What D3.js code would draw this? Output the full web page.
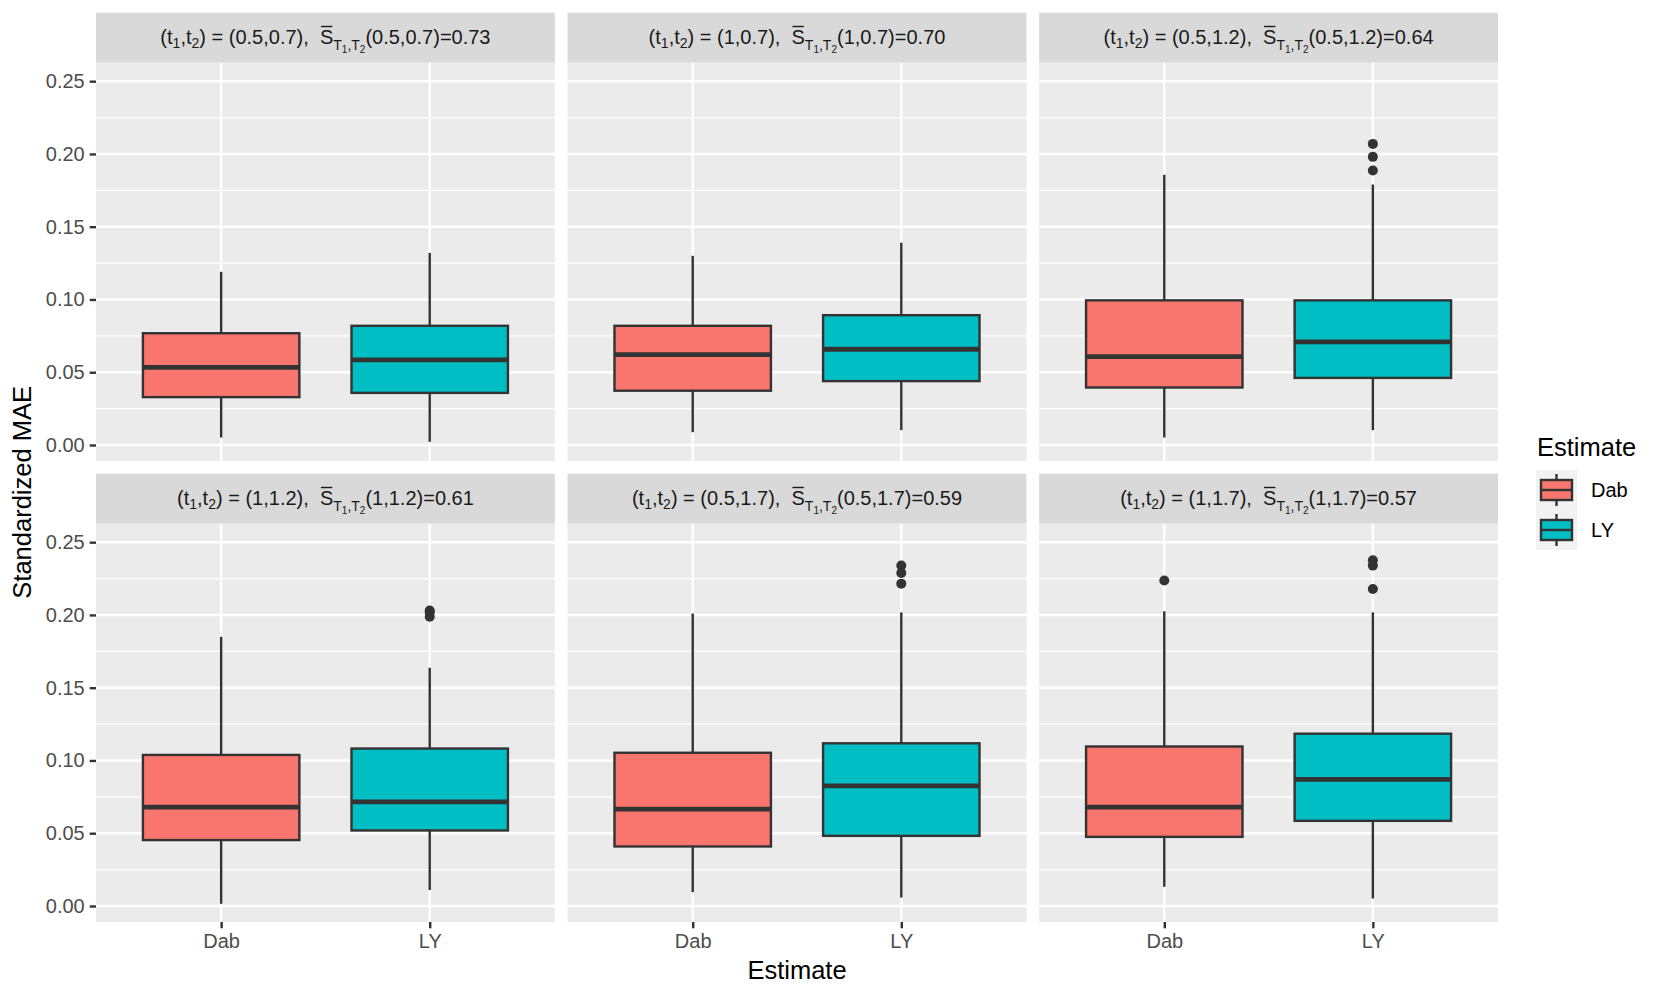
<!DOCTYPE html>
<html>
<head>
<meta charset="utf-8">
<script src="https://cdn.jsdelivr.net/npm/d3@7"></script>
<style>
  body { margin: 0; background: #fff; }
  text { font-family: "Liberation Sans", Arial, sans-serif; }
</style>
</head>
<body>
<svg id="chart" width="1661" height="997"></svg>
<script>
// ######## data
const estimates = ["Dab", "LY"];
const fills = ["#F8766D", "#00BFC4"];

// panel labels: (t1, t2) and S-bar value
const panelT1 = ["0.5", "1", "0.5", "1", "0.5", "1"];
const panelT2 = ["0.7", "0.7", "1.2", "1.2", "1.7", "1.7"];
const panelS = ["0.73", "0.70", "0.64", "0.61", "0.59", "0.57"];

// [lower whisker, Q1, median, Q3, upper whisker] for each panel
const dabBoxes = [
  [0.0051, 0.0329, 0.0534, 0.0768, 0.1190],
  [0.0088, 0.0373, 0.0621, 0.0819, 0.1300],
  [0.0051, 0.0395, 0.0607, 0.0994, 0.1857],
  [0.0015, 0.0453, 0.0680, 0.1038, 0.1850],
  [0.0095, 0.0409, 0.0665, 0.1053, 0.2010],
  [0.0132, 0.0475, 0.0680, 0.1096, 0.2025]
];
const lyBoxes = [
  [0.0022, 0.0358, 0.0585, 0.0819, 0.1320],
  [0.0102, 0.0439, 0.0658, 0.0892, 0.1390],
  [0.0102, 0.0461, 0.0709, 0.0994, 0.1790],
  [0.0110, 0.0519, 0.0716, 0.1082, 0.1637],
  [0.0058, 0.0482, 0.0826, 0.1118, 0.2018],
  [0.0051, 0.0585, 0.0870, 0.1184, 0.2018]
];
const dabOutliers = [[], [], [], [], [], [0.2237]];
const lyOutliers = [
  [], [],
  [0.2069, 0.1980, 0.1886],
  [0.2030, 0.2018, 0.1988],
  [0.2339, 0.2288, 0.2215],
  [0.2376, 0.2339, 0.2178]
];

const yTicks = [0, 0.05, 0.10, 0.15, 0.20, 0.25];
const yMinor = [0.025, 0.075, 0.125, 0.175, 0.225];

// ######## layout
const svg = d3.select("#chart");
const left = 96, right = 1498, top0 = 12.7, gap = 12.7;
const stripH = 50, panelH = 398.3;
const panelW = (right - left - 2 * gap) / 3;
const ink = "#333333";

// discrete scale with ggplot expansion (0.6 each side)
const xPos = d3.scaleLinear().domain([0.4, 2.6]).range([0, panelW]);
const boxW = xPos(1.75) - xPos(1);

function panelTop(row) { return top0 + row * (stripH + panelH + gap) + stripH; }

// lays out a row of text pieces, returns total width
function richText(g, segs, size) {
  let cx = 0;
  segs.forEach(s => {
    const fs = size * (s.scale || 1);
    const t = g.append("text")
      .attr("x", cx).attr("y", (s.shift || 0) * size)
      .attr("font-size", fs).attr("fill", "#1a1a1a")
      .style("white-space", "pre")
      .text(s.t);
    const w = t.node().getComputedTextLength();
    if (s.over) {
      g.append("line")
        .attr("x1", cx + 1).attr("x2", cx + w - 1)
        .attr("y1", -size * 0.86).attr("y2", -size * 0.86)
        .attr("stroke", "#1a1a1a").attr("stroke-width", 1.4);
    }
    cx += w;
  });
  return cx;
}

function stripSegs(i) {
  const a = panelT1[i], b = panelT2[i];
  return [
    { t: "(t" }, { t: "1", scale: 0.7, shift: 0.22 }, { t: ",t" }, { t: "2", scale: 0.7, shift: 0.22 },
    { t: ") = (" + a + "," + b + "),  " },
    { t: "S", over: true },
    { t: "T", scale: 0.7, shift: 0.3 }, { t: "1", scale: 0.5, shift: 0.45 },
    { t: ",T", scale: 0.7, shift: 0.3 }, { t: "2", scale: 0.5, shift: 0.45 },
    { t: "(" + a + "," + b + ")=" + panelS[i] }
  ];
}

for (let i = 0; i < 6; i++) {
  const row = Math.floor(i / 3), col = i % 3;
  const px = left + col * (panelW + gap);
  const py = panelTop(row);
  const y = d3.scaleLinear().domain([-0.011, 0.2627]).range([py + panelH, py]);

  // strip
  svg.append("rect").attr("x", px).attr("y", py - stripH)
    .attr("width", panelW).attr("height", stripH).attr("fill", "#d9d9d9");
  const lab = svg.append("g");
  const w = richText(lab, stripSegs(i), 20);
  lab.attr("transform", `translate(${px + panelW / 2 - w / 2},${py - stripH / 2 + 6})`);

  // panel background + grid
  const p = svg.append("g").attr("transform", `translate(${px},0)`);
  p.append("rect").attr("x", 0).attr("y", py).attr("width", panelW).attr("height", panelH)
    .attr("fill", "#ebebeb");
  p.selectAll(".minor").data(yMinor).join("line")
    .attr("x1", 0).attr("x2", panelW).attr("y1", d => y(d)).attr("y2", d => y(d))
    .attr("stroke", "#fff").attr("stroke-width", 1.2);
  p.selectAll(".major").data(yTicks).join("line")
    .attr("x1", 0).attr("x2", panelW).attr("y1", d => y(d)).attr("y2", d => y(d))
    .attr("stroke", "#fff").attr("stroke-width", 2.4);
  p.selectAll(".vmajor").data(estimates).join("line")
    .attr("x1", (d, j) => xPos(j + 1)).attr("x2", (d, j) => xPos(j + 1))
    .attr("y1", py).attr("y2", py + panelH)
    .attr("stroke", "#fff").attr("stroke-width", 2.4);

  // boxes
  [dabBoxes[i], lyBoxes[i]].forEach((b, j) => {
    const cx = xPos(j + 1);
    const [lo, q1, med, q3, hi] = b;
    p.append("line").attr("x1", cx).attr("x2", cx).attr("y1", y(hi)).attr("y2", y(q3))
      .attr("stroke", ink).attr("stroke-width", 2.4);
    p.append("line").attr("x1", cx).attr("x2", cx).attr("y1", y(q1)).attr("y2", y(lo))
      .attr("stroke", ink).attr("stroke-width", 2.4);
    p.append("rect").attr("x", cx - boxW / 2).attr("y", y(q3))
      .attr("width", boxW).attr("height", y(q1) - y(q3))
      .attr("fill", fills[j]).attr("stroke", ink).attr("stroke-width", 2.4);
    p.append("line").attr("x1", cx - boxW / 2).attr("x2", cx + boxW / 2)
      .attr("y1", y(med)).attr("y2", y(med))
      .attr("stroke", ink).attr("stroke-width", 4.8);
    const outs = j === 0 ? dabOutliers[i] : lyOutliers[i];
    p.selectAll(null).data(outs).join("circle")
      .attr("cx", cx).attr("cy", d => y(d)).attr("r", 5).attr("fill", ink);
  });

  // y axis on the left column
  if (col === 0) {
    const ax = svg.append("g").attr("transform", `translate(${px},0)`)
      .call(d3.axisLeft(y).tickValues(yTicks).tickFormat(d3.format(".2f")).tickSize(6.3).tickPadding(5));
    ax.select(".domain").remove();
    ax.selectAll(".tick line").attr("stroke", ink).attr("stroke-width", 2.4);
    ax.selectAll(".tick text").attr("font-size", 20).attr("fill", "#4d4d4d")
      .attr("font-family", "Liberation Sans, Arial, sans-serif");
  }
  // x axis on the bottom row
  if (row === 1) {
    const ax = svg.append("g").attr("transform", `translate(${px},${py + panelH})`)
      .call(d3.axisBottom(xPos).tickValues([1, 2]).tickFormat(d => estimates[d - 1]).tickSize(6.3).tickPadding(5));
    ax.select(".domain").remove();
    ax.selectAll(".tick line").attr("stroke", ink).attr("stroke-width", 2.4);
    ax.selectAll(".tick text").attr("font-size", 20).attr("fill", "#4d4d4d")
      .attr("font-family", "Liberation Sans, Arial, sans-serif");
  }
}

// axis titles
const yMid = (panelTop(0) + panelTop(1) + panelH) / 2;
svg.append("text").attr("transform", `translate(31,${yMid}) rotate(-90)`)
  .attr("text-anchor", "middle").attr("font-size", 25.5).attr("fill", "#000")
  .text("Standardized MAE");
svg.append("text").attr("x", (left + right) / 2).attr("y", 979)
  .attr("text-anchor", "middle").attr("font-size", 25.5).attr("fill", "#000")
  .text("Estimate");

// legend
const lg = svg.append("g").attr("transform", "translate(1536,0)");
lg.append("text").attr("x", 1).attr("y", 456).attr("font-size", 25.5).attr("fill", "#000").text("Estimate");
const keyS = 40, keyTop = 470;
estimates.forEach((e, j) => {
  const ky = keyTop + j * keyS;
  lg.append("rect").attr("x", 0).attr("y", ky).attr("width", 41).attr("height", keyS).attr("fill", "#f2f2f2");
  lg.append("line").attr("x1", 20.5).attr("x2", 20.5).attr("y1", ky + 4).attr("y2", ky + keyS - 4)
    .attr("stroke", ink).attr("stroke-width", 2.4);
  lg.append("rect").attr("x", 5).attr("y", ky + 10).attr("width", 31).attr("height", keyS - 20)
    .attr("fill", fills[j]).attr("stroke", ink).attr("stroke-width", 2.4);
  lg.append("line").attr("x1", 5).attr("x2", 36).attr("y1", ky + keyS / 2).attr("y2", ky + keyS / 2)
    .attr("stroke", ink).attr("stroke-width", 2.4);
  lg.append("text").attr("x", 55).attr("y", ky + keyS / 2 + 7).attr("font-size", 20).attr("fill", "#000").text(e);
});
</script>
</body>
</html>
